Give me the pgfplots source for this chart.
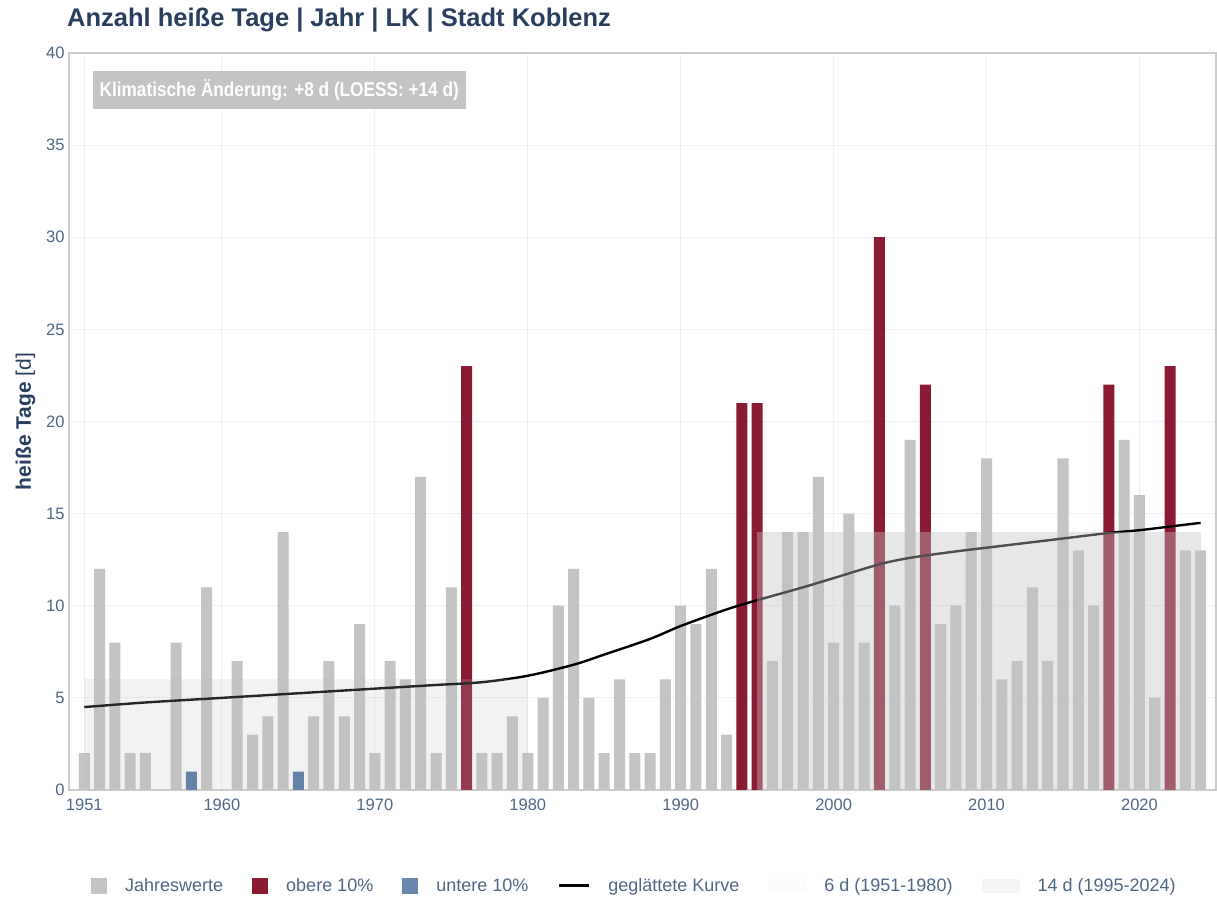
\documentclass[border=0pt]{standalone}
\usepackage{fontspec}
\setmainfont{Liberation Sans}
\newfontfamily\narrowbold[FakeStretch=0.86]{Liberation Sans Bold}
\usepackage{pgfplots}
\pgfplotsset{compat=1.18}
\definecolor{barGray}{RGB}{196,196,196}
\definecolor{barRed}{RGB}{139,26,51}
\definecolor{barBlue}{RGB}{77,115,159}
\definecolor{titleBlue}{RGB}{42,63,95}
\definecolor{tickCol}{RGB}{80,103,132}
\definecolor{gridCol}{RGB}{235,239,248}
\definecolor{frameCol}{RGB}{205,205,205}
\definecolor{areaA}{RGB}{190,190,190}
\definecolor{areaB}{RGB}{195,195,195}
\definecolor{legA}{RGB}{242,242,242}
\definecolor{legB}{RGB}{230,230,230}
\begin{document}
\begin{tikzpicture}[x=1pt,y=1pt]
\path[use as bounding box, fill=white] (0,0) rectangle (1217,901);
\node[anchor=west, font=\fontsize{25.5}{29}\selectfont\bfseries, text=titleBlue, inner sep=0pt] at (67,881) {Anzahl heiße Tage | Jahr | LK | Stadt Koblenz};
\begin{axis}[
  at={(69pt,111pt)}, anchor=south west,
  scale only axis, width=1147pt, height=737pt,
  xmin=1950, xmax=2025, ymin=0, ymax=40,
  xtick={1951,1960,1970,1980,1990,2000,2010,2020},
  ytick={0,5,10,15,20,25,30,35,40},
  major tick length=0pt,
  grid=major, major grid style={gridCol, line width=1pt},
  axis line style={frameCol, line width=1.2pt},
  tick label style={font=\fontsize{16.5}{19}\selectfont, text=tickCol},
  /pgf/number format/.cd, 1000 sep={}, assume math mode=true, /pgfplots/.cd,
  xticklabel style={yshift=-5pt},
  yticklabel style={xshift=-1pt},
  ylabel={\textbf{heiße Tage} [d]},
  ylabel style={font=\fontsize{21}{24}\selectfont, text=titleBlue, yshift=4pt},
  legend columns=6,
  legend style={at={(0.493,-0.130)}, anchor=center, draw=none, fill=none,
    font=\fontsize{18}{21}\selectfont, text=tickCol,
    /tikz/every odd column/.append style={column sep=16pt},
    /tikz/every even column/.append style={column sep=27pt}},
]
% gray bars
\addplot[ybar, bar width=0.72, bar shift=0pt, fill=barGray, draw=none,
  legend image code/.code={\fill[barGray] (0pt,-8pt) rectangle (16pt,8pt);}]
coordinates {
(1951,2)(1952,12)(1953,8)(1954,2)(1955,2)(1956,0)(1957,8)(1959,11)(1960,0)
(1961,7)(1962,3)(1963,4)(1964,14)(1966,4)(1967,7)(1968,4)(1969,9)(1970,2)
(1971,7)(1972,6)(1973,17)(1974,2)(1975,11)(1977,2)(1978,2)(1979,4)(1980,2)
(1981,5)(1982,10)(1983,12)(1984,5)(1985,2)(1986,6)(1987,2)(1988,2)(1989,6)(1990,10)
(1991,9)(1992,12)(1993,3)(1996,7)(1997,14)(1998,14)(1999,17)(2000,8)
(2001,15)(2002,8)(2004,10)(2005,19)(2007,9)(2008,10)(2009,14)(2010,18)
(2011,6)(2012,7)(2013,11)(2014,7)(2015,18)(2016,13)(2017,10)(2019,19)(2020,16)
(2021,5)(2023,13)(2024,13)};
\addlegendentry{Jahreswerte}
% red bars
\addplot[ybar, bar width=0.72, bar shift=0pt, fill=barRed, draw=none,
  legend image code/.code={\fill[barRed] (0pt,-8pt) rectangle (16pt,8pt);}]
coordinates {(1976,23)(1994,21)(1995,21)(2003,30)(2006,22)(2018,22)(2022,23)};
\addlegendentry{obere 10\%}
% blue bars
\addplot[ybar, bar width=0.72, bar shift=0pt, fill=barBlue, draw=none,
  legend image code/.code={\fill[barBlue!85!white] (0pt,-8pt) rectangle (16pt,8pt);}]
coordinates {(1958,1)(1965,1)};
\addlegendentry{untere 10\%}
% smoothed curve
\addplot[black, line width=2.4pt, smooth, no markers,
  legend image code/.code={\draw[black, line width=3pt] (0pt,0pt) -- (30pt,0pt);}]
coordinates {
(1951,4.5)(1955,4.75)(1960,5.0)(1965,5.25)(1970,5.5)(1974,5.7)(1977,5.85)(1980,6.2)
(1983,6.8)(1985,7.35)(1988,8.2)(1990,8.9)(1993,9.8)(1995,10.3)(1998,11.0)(2000,11.5)
(2003,12.25)(2005,12.6)(2008,12.95)(2010,13.15)(2013,13.45)(2015,13.65)(2018,13.95)(2020,14.1)(2022,14.3)(2024,14.5)};
\addlegendentry{geglättete Kurve}
% reference areas
\addplot[draw=none, fill=areaA, fill opacity=0.2,
  legend image code/.code={\fill[legA] (0pt,-7pt) rectangle (38pt,7pt);}]
coordinates {(1951,0)(1951,6)(1980,6)(1980,0)} -- cycle;
\addlegendentry{6 d (1951-1980)}
\addplot[draw=none, fill=areaB, fill opacity=0.4,
  legend image code/.code={\fill[legB] (0pt,-7pt) rectangle (38pt,7pt);}]
coordinates {(1995,0)(1995,14)(2024,14)(2024,0)} -- cycle;
\addlegendentry{14 d (1995-2024)}
\node[anchor=north west, fill=barGray, text=white, font=\narrowbold\fontsize{20}{23}\selectfont,
  minimum height=38pt, inner xsep=7pt] at (rel axis cs:0.0205,0.9756) {Klimatische Änderung: +8 d (LOESS: +14 d)};
\end{axis}
\end{tikzpicture}
\end{document}
